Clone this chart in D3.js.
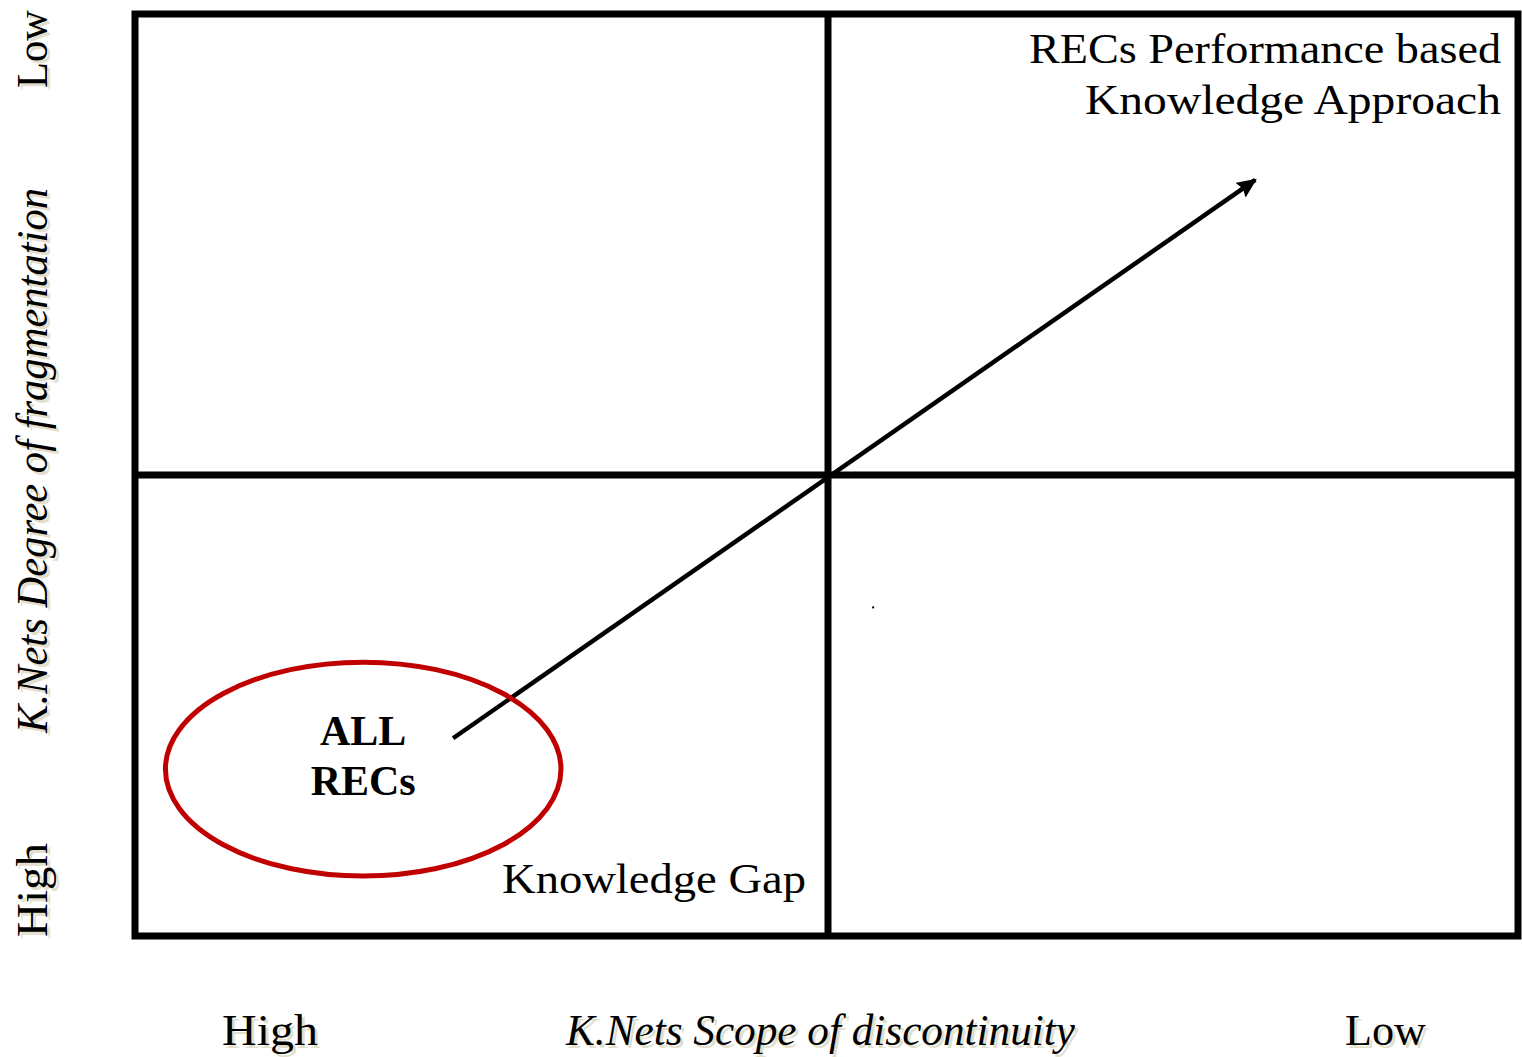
<!DOCTYPE html>
<html><head><meta charset="utf-8">
<script src="https://cdn.jsdelivr.net/npm/d3@7"></script>
<style>body{margin:0;background:#fff}svg{display:block}</style>
</head><body>
<script>
// ---- data ----
const xTickLabels = ["High", "Low"];          // K.Nets Scope of discontinuity
const yTickLabels = ["High", "Low"];          // K.Nets Degree of fragmentation
const xTitle = "K.Nets Scope of discontinuity";
const yTitle = "K.Nets Degree of fragmentation";
const quadrantDomain = [0, 2];
const quadrantDividers = [1];
const groupName = ["ALL", "RECs"];
const groupCenter = [0.33, 0.362];
const groupRadius = [0.286, 0.232];
const arrowFrom = [0.46, 0.429];
const arrowTo = [1.62, 1.64];
const annotations = [
  {lines: ["RECs Performance based", "Knowledge Approach"], at: [1.97, 1.95]},
  {lines: ["Knowledge Gap"], at: [0.97, 0.09]}
];
const strayDot = [1.066, 0.715];

// ---- drawing ----
const W = 1522, H = 1057;
const svg = d3.select("body").append("svg").attr("width", W).attr("height", H);
const x = d3.scaleLinear().domain(quadrantDomain).range([135, 1518]);
const y = d3.scaleLinear().domain(quadrantDomain).range([936, 14]);
const serif = "'Liberation Serif','Times New Roman',serif";
const shadow = "#e3dfcc";

// frame
svg.append("rect").attr("x", x(0)).attr("y", y(2))
  .attr("width", x(2) - x(0)).attr("height", y(0) - y(2))
  .attr("fill", "none").attr("stroke", "#000").attr("stroke-width", 7);
quadrantDividers.forEach(d => {
  svg.append("line").attr("x1", x(d) + 1.5).attr("x2", x(d) + 1.5).attr("y1", y(0)).attr("y2", y(2))
    .attr("stroke", "#000").attr("stroke-width", 7);
  svg.append("line").attr("x1", x(0)).attr("x2", x(2)).attr("y1", y(d)).attr("y2", y(d))
    .attr("stroke", "#000").attr("stroke-width", 7);
});

// arrow
svg.append("defs").append("marker").attr("id", "ah")
  .attr("viewBox", "0 0 20 18").attr("refX", 18).attr("refY", 9)
  .attr("markerWidth", 20).attr("markerHeight", 18).attr("markerUnits", "userSpaceOnUse")
  .attr("orient", "auto")
  .append("path").attr("d", "M0,0 L20,9 L0,18 L3,9 Z").attr("fill", "#000");
svg.append("line")
  .attr("x1", x(arrowFrom[0])).attr("y1", y(arrowFrom[1]))
  .attr("x2", x(arrowTo[0])).attr("y2", y(arrowTo[1]))
  .attr("stroke", "#000").attr("stroke-width", 4.5).attr("marker-end", "url(#ah)");

// ellipse
svg.append("ellipse")
  .attr("cx", x(groupCenter[0])).attr("cy", y(groupCenter[1]))
  .attr("rx", x(groupRadius[0]) - x(0)).attr("ry", y(0) - y(groupRadius[1]))
  .attr("fill", "none").attr("stroke", "#c00000").attr("stroke-width", 5);

// group label
groupName.forEach((t, i) => {
  svg.append("text").attr("x", x(groupCenter[0])).attr("y", 745 + i * 50)
    .attr("text-anchor", "middle").attr("font-family", serif).attr("font-weight", "bold")
    .attr("font-size", 42).attr("fill", "#000").text(t);
});

// annotations
svg.append("text").attr("x", 1501).attr("y", 63)
  .attr("text-anchor", "end").attr("font-family", serif).attr("font-size", 42)
  .attr("textLength", 472).attr("lengthAdjust", "spacingAndGlyphs").text(annotations[0].lines[0]);
svg.append("text").attr("x", 1501).attr("y", 114)
  .attr("text-anchor", "end").attr("font-family", serif).attr("font-size", 42)
  .attr("textLength", 416).attr("lengthAdjust", "spacingAndGlyphs").text(annotations[0].lines[1]);
svg.append("text").attr("x", 502).attr("y", 893)
  .attr("font-family", serif).attr("font-size", 42)
  .attr("textLength", 304).attr("lengthAdjust", "spacingAndGlyphs").text(annotations[1].lines[0]);

// stray dot
svg.append("rect").attr("x", x(strayDot[0])).attr("y", y(strayDot[1])).attr("width", 2).attr("height", 2).attr("fill", "#000");

// shadowed text helper
function shText(g, txt, attrs, len) {
  [[shadow, 3, 3], ["#000", 0, 0]].forEach(([c, dx, dy]) => {
    const t = g.append("text").attr("fill", c).attr("font-family", serif).text(txt);
    Object.entries(attrs).forEach(([k, v]) => t.attr(k, v));
    t.attr("transform", `translate(${dx},${dy}) ` + (attrs.transform || ""));
    if (len) t.attr("textLength", len).attr("lengthAdjust", "spacingAndGlyphs");
  });
}

// x axis labels
shText(svg, xTickLabels[0], {x: 222, y: 1045, "font-size": 44}, 96);
shText(svg, xTitle, {x: 566, y: 1045, "font-size": 44, "font-style": "italic"}, 509);
shText(svg, xTickLabels[1], {x: 1345, y: 1045, "font-size": 44}, 81);

// y axis labels (rotated)
shText(svg, yTickLabels[0], {transform: "translate(47,937) rotate(-90)", x: 0, y: 0, "font-size": 44}, 94);
shText(svg, yTitle, {transform: "translate(47,733) rotate(-90)", x: 0, y: 0, "font-size": 44, "font-style": "italic"}, 545);
shText(svg, yTickLabels[1], {transform: "translate(47,88) rotate(-90)", x: 0, y: 0, "font-size": 44}, 78);
</script>
</body></html>
